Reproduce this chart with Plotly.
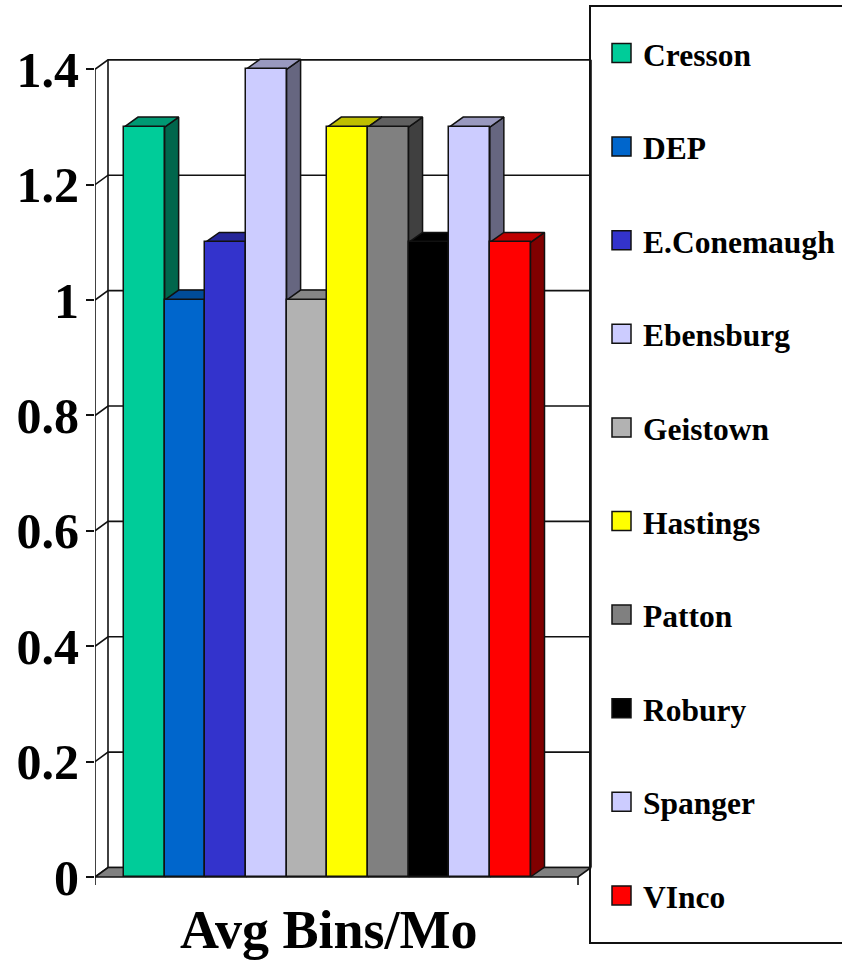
import plotly.graph_objects as go

# ---- data -------------------------------------------------------------
sites = ["Cresson", "DEP", "E.Conemaugh", "Ebensburg", "Geistown",
         "Hastings", "Patton", "Robury", "Spanger", "VInco"]
avg_bins = [1.3, 1.0, 1.1, 1.4, 1.0, 1.3, 1.3, 1.1, 1.3, 1.1]
tick_values = [0, 0.2, 0.4, 0.6, 0.8, 1.0, 1.2, 1.4]
tick_labels = ["0", "0.2", "0.4", "0.6", "0.8", "1", "1.2", "1.4"]
category_title = "Avg Bins/Mo"

# ---- styles -----------------------------------------------------------
face_colors = ["#00CC99", "#0066CC", "#3333CC", "#CCCCFF", "#B2B2B2",
               "#FFFF00", "#808080", "#000000", "#CCCCFF", "#FF0000"]
FONT = "Liberation Serif"
INK = "#111111"

# ---- page geometry (pixels) --------------------------------------------
W, H = 842, 962
MARGIN_L = 95
ZERO_PX = 877            # screen row of value 0 on the front axis
PX_PER_UNIT = 576.9      # screen pixels per value unit
BAR_PX = 40.65           # width of one bar
FIRST_BAR_LEFT_PX = 124
FLOOR_RIGHT_PAD_PX = 47.5
WALL_DEPTH = (13, 9.5)   # 3-D depth offset of the walls (dx, dy in px)
BAR_DEPTH = (14, 10)     # 3-D depth offset of the bars

# data-space ranges so that the axes reproduce the pixel layout
x_min = -0.5 - (FIRST_BAR_LEFT_PX - MARGIN_L) / BAR_PX
x_max = x_min + (W - MARGIN_L) / BAR_PX
y_max = ZERO_PX / PX_PER_UNIT
y_min = -(H - ZERO_PX) / PX_PER_UNIT

n = len(sites)
floor_right = n - 0.5 + FLOOR_RIGHT_PAD_PX / BAR_PX
wdx, wdy = WALL_DEPTH[0] / BAR_PX, WALL_DEPTH[1] / PX_PER_UNIT
bdx, bdy = BAR_DEPTH[0] / BAR_PX, BAR_DEPTH[1] / PX_PER_UNIT
top_val = tick_values[-1]


def shade(hex_color, f):
    h = hex_color.lstrip("#")
    r, g, b = (int(h[i:i + 2], 16) for i in (0, 2, 4))
    return "rgb({},{},{})".format(round(r * f), round(g * f), round(b * f))


def px_x(px):
    return (px - MARGIN_L) / (W - MARGIN_L)


def px_y(py):
    return 1 - py / H


fig = go.Figure()

# back wall gridlines, left wall diagonals and wall edges
gx, gy = [], []
for v in tick_values:
    gx += [x_min, x_min + wdx, floor_right + wdx, None]
    gy += [v, v + wdy, v + wdy, None]
gx += [x_min + wdx, x_min + wdx, None, floor_right + wdx, floor_right + wdx, None]
gy += [wdy, top_val + wdy, None, wdy, top_val + wdy, None]
fig.add_trace(go.Scatter(x=gx, y=gy, mode="lines",
                         line=dict(color=INK, width=1.6),
                         hoverinfo="skip", showlegend=False))

# floor
fig.add_trace(go.Scatter(
    x=[x_min, floor_right, floor_right + wdx, x_min + wdx, x_min],
    y=[0, 0, wdy, wdy, 0],
    mode="lines", fill="toself", fillcolor="#808080",
    line=dict(color=INK, width=1.6), hoverinfo="skip", showlegend=False))

# front value axis line and category-axis tick marks
tick_drop = 8 / PX_PER_UNIT
fig.add_trace(go.Scatter(
    x=[x_min, x_min, None, x_min, x_min, None, floor_right, floor_right],
    y=[0, top_val, None, 0, -tick_drop, None, 0, -tick_drop],
    mode="lines", line=dict(color=INK, width=1.6),
    hoverinfo="skip", showlegend=False))

# bar sides and tops (behind the front faces), left to right
for i, (v, c) in enumerate(zip(avg_bins, face_colors)):
    xl, xr = i - 0.5, i + 0.5
    fig.add_trace(go.Scatter(
        x=[xr, xr, xr + bdx, xr + bdx, xr], y=[0, v, v + bdy, bdy, 0],
        mode="lines", fill="toself", fillcolor=shade(c, 0.5),
        line=dict(color=INK, width=1.5), hoverinfo="skip", showlegend=False))
    fig.add_trace(go.Scatter(
        x=[xl, xr, xr + bdx, xl + bdx, xl], y=[v, v, v + bdy, v + bdy, v],
        mode="lines", fill="toself", fillcolor=shade(c, 0.75),
        line=dict(color=INK, width=1.5), hoverinfo="skip", showlegend=False))

# front faces of the bars on an overlaid axis pair so they sit on top
fig.add_trace(go.Bar(
    x=list(range(n)), y=avg_bins, width=1,
    marker=dict(color=face_colors, line=dict(color=INK, width=1.5)),
    hovertext=sites, xaxis="x2", yaxis="y2", showlegend=False))

# legend box with one entry per site
shapes = [dict(type="rect", xref="paper", yref="paper",
               x0=px_x(590), x1=px_x(852), y0=px_y(943), y1=px_y(6),
               line=dict(color=INK, width=2), fillcolor="rgba(0,0,0,0)")]
annotations = []
row0, row_step, sq = 53, 93.6, 19
for i, (name, c) in enumerate(zip(sites, face_colors)):
    cy = row0 + row_step * i
    shapes.append(dict(type="rect", xref="paper", yref="paper",
                       x0=px_x(612), x1=px_x(612 + sq),
                       y0=px_y(cy + sq / 2), y1=px_y(cy - sq / 2),
                       fillcolor=c, line=dict(color=INK, width=1.5)))
    annotations.append(dict(text="<b>" + name + "</b>", xref="paper", yref="paper",
                            x=px_x(641), y=px_y(cy + 2),
                            xanchor="left", yanchor="middle", showarrow=False,
                            font=dict(family=FONT, size=31.5, color="black")))

annotations.append(dict(text="<b>" + category_title + "</b>", xref="x", yref="paper",
                        x=(n - 1) / 2 + 0.05, y=px_y(930), xanchor="center",
                        yanchor="middle", showarrow=False,
                        font=dict(family=FONT, size=54, color="black")))

fig.update_layout(
    width=W, height=H,
    margin=dict(l=MARGIN_L, r=0, t=0, b=0),
    paper_bgcolor="white", plot_bgcolor="white",
    showlegend=False, bargap=0,
    xaxis=dict(range=[x_min, x_max], showgrid=False, zeroline=False,
               showline=False, showticklabels=False, ticks=""),
    yaxis=dict(range=[y_min, y_max], showgrid=False, zeroline=False,
               showline=False, tickmode="array", tickvals=tick_values,
               ticktext=["<b>" + t + "</b>" for t in tick_labels],
               ticks="outside", ticklen=8,
               tickwidth=1.6, tickcolor=INK, ticklabelstandoff=-3,
               tickfont=dict(family=FONT, size=50, color="black")),
    xaxis2=dict(overlaying="x", matches="x", visible=False),
    yaxis2=dict(overlaying="y", matches="y", visible=False),
    shapes=shapes, annotations=annotations,
)

fig.write_html("out.html")
